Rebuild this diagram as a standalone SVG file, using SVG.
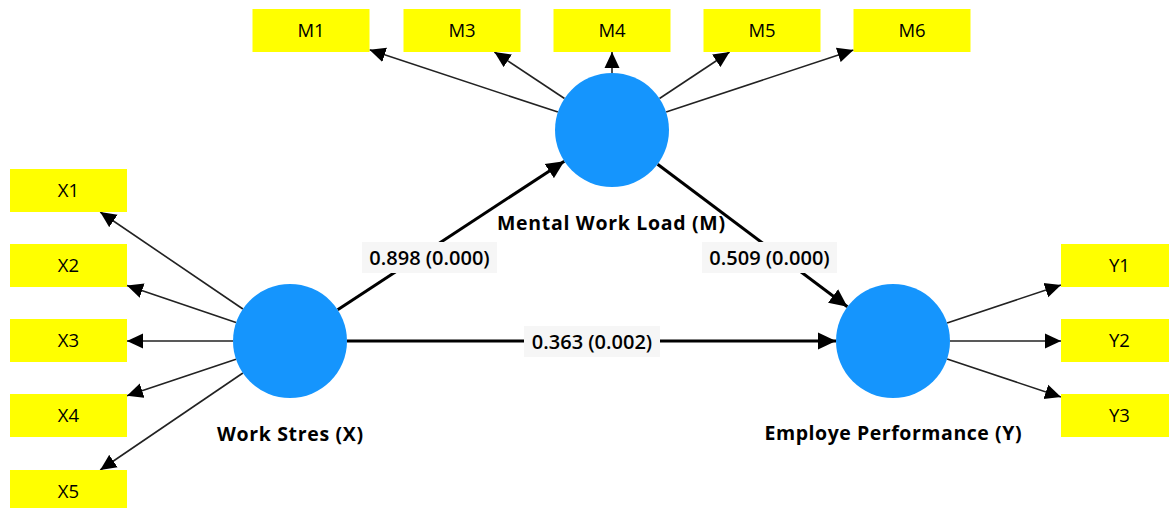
<svg xmlns="http://www.w3.org/2000/svg" width="1169" height="508" viewBox="0 0 1169 508">
<style>
.ind{fill:#ffff00}
.lv{fill:#1595fd}
.it{font-family:"Open Sans","Liberation Sans",sans-serif;font-size:18.5px;fill:#000;text-anchor:middle}
.nl{font-family:"Open Sans","Liberation Sans",sans-serif;font-weight:bold;font-size:19.5px;fill:#000;text-anchor:middle}
.pl{font-family:"Open Sans","Liberation Sans",sans-serif;font-weight:600;font-size:20px;fill:#000;text-anchor:middle}
.lb{fill:#f6f6f6}
.thin{stroke:#222;stroke-width:1.6;fill:none;marker-end:url(#ah)}
.thick{stroke:#000;stroke-width:3;fill:none;marker-end:url(#ahb)}
</style>
<defs>
<marker id="ah" markerUnits="userSpaceOnUse" markerWidth="16" markerHeight="16" viewBox="0 0 16 16" refX="16" refY="8" orient="auto">
<path d="M0,0.5 L16,8 L0,15.5 z" fill="#000"/>
</marker>
<marker id="ahb" markerUnits="userSpaceOnUse" markerWidth="18" markerHeight="18" viewBox="0 0 18 18" refX="18" refY="9" orient="auto">
<path d="M0,0.5 L18,9 L0,17.5 z" fill="#000"/>
</marker>
</defs>
<rect width="1169" height="508" fill="#fff"/>

<g id="connectors">
<line class="thin" x1="242.9" y1="309" x2="100.2" y2="212"/>
<line class="thin" x1="236" y1="322.6" x2="127" y2="285.4"/>
<line class="thin" x1="233" y1="341" x2="127" y2="341"/>
<line class="thin" x1="236" y1="359.2" x2="127" y2="395.8"/>
<line class="thin" x1="242.9" y1="373" x2="100.2" y2="470"/>
<line class="thin" x1="947.1" y1="323" x2="1061" y2="285"/>
<line class="thin" x1="950" y1="341" x2="1061" y2="341"/>
<line class="thin" x1="947.1" y1="359" x2="1061" y2="397"/>
<line class="thin" x1="557.9" y1="112.1" x2="369.5" y2="49.8"/>
<line class="thin" x1="564.5" y1="98.5" x2="494.4" y2="52"/>
<line class="thin" x1="612" y1="73" x2="612" y2="52"/>
<line class="thin" x1="659.5" y1="98.5" x2="729.6" y2="52"/>
<line class="thin" x1="666.1" y1="112.1" x2="853.5" y2="49.9"/>
<line class="thick" x1="337.7" y1="309.8" x2="564.3" y2="161.2"/>
<line class="thick" x1="347" y1="341" x2="836" y2="341"/>
<line class="thick" x1="657.6" y1="164.2" x2="847.4" y2="306.8"/>
<g id="path-labels">
<rect class="lb" x="362" y="242" width="135" height="31"/>
<text class="pl" x="429.5" y="265">0.898 (0.000)</text>
<rect class="lb" x="702" y="242" width="135" height="31"/>
<text class="pl" x="769.5" y="265">0.509 (0.000)</text>
<rect class="lb" x="524" y="326" width="136" height="31"/>
<text class="pl" x="592" y="348.5">0.363 (0.002)</text>
</g>
</g>

<g id="node-M">
<circle class="lv" cx="612" cy="130" r="57"/>
<text class="nl" x="611" y="230" textLength="228">Mental Work Load (M)</text>
</g>
<g id="node-X">
<circle class="lv" cx="290" cy="341" r="57"/>
<text class="nl" x="290" y="441" textLength="146">Work Stres (X)</text>
</g>
<g id="node-Y">
<circle class="lv" cx="893" cy="341" r="57"/>
<text class="nl" x="893" y="440" textLength="257">Employe Performance (Y)</text>
</g>

<g id="node-M1"><rect class="ind" x="252.5" y="9" width="117" height="43"/><text class="it" x="311" y="37">M1</text></g>
<g id="node-M3"><rect class="ind" x="403.5" y="9" width="117" height="43"/><text class="it" x="462" y="37">M3</text></g>
<g id="node-M4"><rect class="ind" x="553.5" y="9" width="117" height="43"/><text class="it" x="612" y="37">M4</text></g>
<g id="node-M5"><rect class="ind" x="703.5" y="9" width="117" height="43"/><text class="it" x="762" y="37">M5</text></g>
<g id="node-M6"><rect class="ind" x="853.5" y="9" width="117" height="43"/><text class="it" x="912" y="37">M6</text></g>

<g id="node-X1"><rect class="ind" x="10" y="169" width="117" height="43"/><text class="it" x="68.5" y="197">X1</text></g>
<g id="node-X2"><rect class="ind" x="10" y="244" width="117" height="43"/><text class="it" x="68.5" y="272">X2</text></g>
<g id="node-X3"><rect class="ind" x="10" y="319" width="117" height="43"/><text class="it" x="68.5" y="347">X3</text></g>
<g id="node-X4"><rect class="ind" x="10" y="394" width="117" height="43"/><text class="it" x="68.5" y="422">X4</text></g>
<g id="node-X5"><rect class="ind" x="10" y="470" width="117" height="43"/><text class="it" x="68.5" y="498">X5</text></g>

<g id="node-Y1"><rect class="ind" x="1061" y="244" width="117" height="43"/><text class="it" x="1119.5" y="272">Y1</text></g>
<g id="node-Y2"><rect class="ind" x="1061" y="319" width="117" height="43"/><text class="it" x="1119.5" y="347">Y2</text></g>
<g id="node-Y3"><rect class="ind" x="1061" y="394" width="117" height="43"/><text class="it" x="1119.5" y="422">Y3</text></g>
</svg>
